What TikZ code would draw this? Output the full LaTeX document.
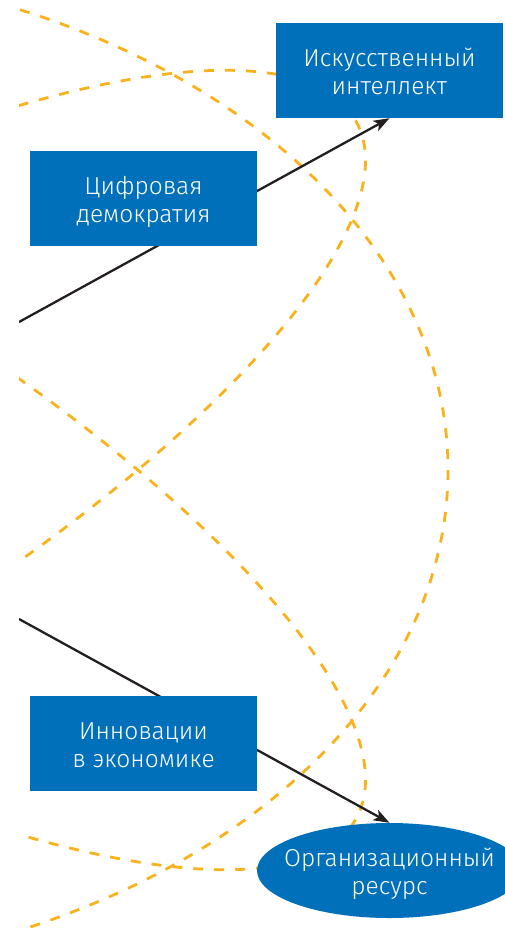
\documentclass[tikz,border=0pt]{standalone}
\usepackage{fontspec}
\setmainfont{Fira Sans Light}
\usetikzlibrary{shapes.geometric,arrows.meta,backgrounds}
\definecolor{boxblue}{HTML}{0070BA}
\definecolor{dashorange}{HTML}{F9B21B}
\definecolor{arrowblack}{HTML}{231F20}
\newcommand{\myTopStrut}{\rule{0pt}{26pt}}
\newcommand{\myBotStrut}{\rule[-5.6pt]{0pt}{5.6pt}}
\begin{document}
\begin{tikzpicture}[x=1pt,y=-1pt,
  blockbox/.style={fill=boxblue, text=white, minimum width=227pt, minimum height=95pt,
    inner sep=0pt, align=center, font=\fontsize{24.5}{27.6}\selectfont},
  orgshape/.style={ellipse, fill=boxblue, minimum width=265pt, minimum height=95pt, inner sep=0pt},
  labeltext/.style={text=white, align=center, inner sep=0pt, font=\fontsize{24.5}{27.6}\selectfont},
  guide/.style={draw=dashorange, line width=2.8pt, dash pattern=on 10pt off 11pt},
  link/.style={draw=arrowblack, line width=2.3pt, -{Stealth[length=16pt, width=11.5pt, inset=4pt]}}
]
\useasboundingbox (0,0) rectangle (504,928);

\node[blockbox] (ai) at (389.5,70.5) {\myTopStrut Искусственный\\интеллект\myBotStrut};
\node[blockbox] (demo) at (143.5,198.5) {\myTopStrut Цифровая\\демократия\myBotStrut};
\node[blockbox] (innov) at (143.5,743) {\myTopStrut Инновации\\в экономике\myBotStrut};
\node[orgshape] (org) at (389.5,870.5) {};
\node[labeltext] (orgtext) at (org.center) {\myTopStrut Организационный\\ресурс\myBotStrut};

\coordinate (srcA) at (19,322);
\coordinate (srcB) at (19,619);

\begin{scope}[on background layer]
  \clip (19,0) rectangle (504,928);
  \draw[guide] (-280,470) ellipse [x radius=728, y radius=505];
  \draw[guide, shift={(-282,484)}, rotate=29.7] (0,0) ellipse [x radius=734, y radius=227];
  \draw[guide, shift={(-282,456)}, rotate=-29.7] (0,0) ellipse [x radius=734, y radius=227];
  \draw[link] (srcA) -- (ai.south);
  \draw[link] (srcB) -- (org.north);
\end{scope}
\end{tikzpicture}
\end{document}
